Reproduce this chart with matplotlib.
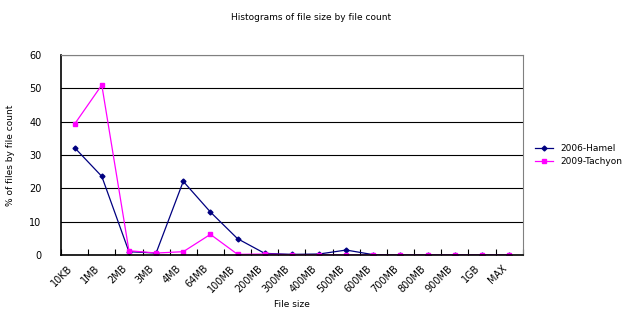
import matplotlib.pyplot as plt

# categorii si valori
sizes = ['10KB', '1MB', '2MB', '3MB', '4MB', '64MB', '100MB', '200MB', '300MB',
         '400MB', '500MB', '600MB', '700MB', '800MB', '900MB', '1GB', 'MAX']
hamel = [32.2, 23.6, 1.0, 0.6, 22.1, 12.9, 4.9, 0.5, 0.2, 0.3, 1.5, 0.1, 0, 0, 0, 0, 0]
tachyon = [39.3, 51.0, 1.3, 0.6, 1.0, 6.2, 0.2, 0.3, 0.1, 0.1, 0.05, 0, 0, 0, 0, 0, 0]

fig = plt.figure(figsize=(6.23, 3.18), dpi=100)
ax = fig.add_axes([0.098, 0.198, 0.741, 0.629])

x = range(len(sizes))
ax.plot(x, hamel, color='#000080', marker='D', markersize=2.5, linewidth=0.9, label='2006-Hamel')
ax.plot(x, tachyon, color='#FF00FF', marker='s', markersize=3, linewidth=0.9, label='2009-Tachyon')

ax.set_xlim(-0.5, len(sizes) - 0.5)
ax.set_ylim(0, 60)
ax.set_yticks(range(0, 61, 10))
ax.set_xticks(list(x))
ax.set_xticklabels(sizes, rotation=45, ha='right', fontsize=7)
ax.set_xticks([i + 0.5 for i in range(-1, len(sizes))], minor=True)
ax.tick_params(axis='x', which='major', length=0, pad=6)
ax.tick_params(axis='x', which='minor', length=4, direction='in', width=0.8)
ax.tick_params(axis='y', length=0, labelsize=7, pad=14)

ax.grid(axis='y', color='black', linewidth=0.8)
ax.set_axisbelow(True)
ax.spines['top'].set_color('#808080')
ax.spines['right'].set_color('#808080')
ax.spines['left'].set_linewidth(1.2)
ax.spines['bottom'].set_linewidth(1.2)

ax.set_xlabel('File size', fontsize=6.5)
ax.set_ylabel('% of files by file count', fontsize=6.5, labelpad=10)
fig.suptitle('Histograms of file size by file count', fontsize=6.5, y=0.96)

ax.legend(loc='center left', bbox_to_anchor=(1.0, 0.5), frameon=False, fontsize=6.5,
          handlelength=2, borderaxespad=1.0)

fig.savefig('out.png', dpi=100)
